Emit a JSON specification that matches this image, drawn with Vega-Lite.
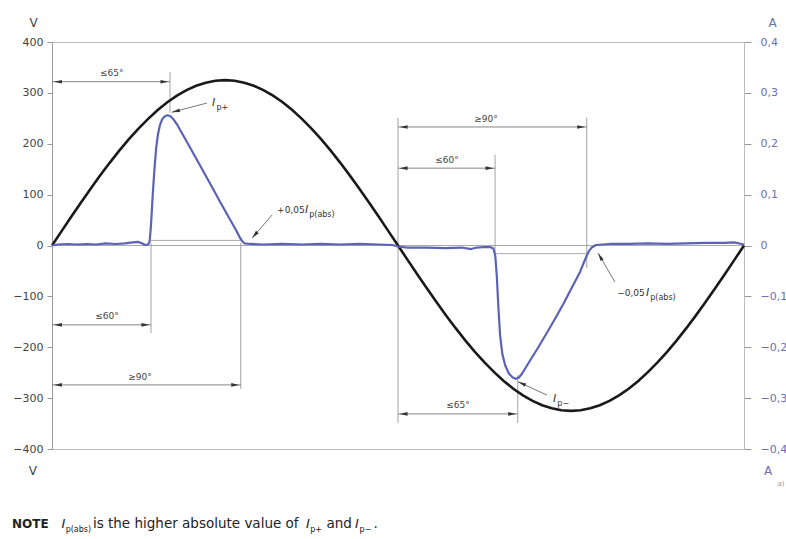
{
  "$schema": "https://vega.github.io/schema/vega-lite/v6.json",
  "width": 692,
  "height": 407,
  "autosize": {"type": "none"},
  "padding": {"left": 52, "top": 42, "right": 42, "bottom": 90},
  "background": "white",
  "config": {
    "view": {"stroke": "#bbbbbb", "strokeWidth": 1},
    "axis": {"grid": false, "labelFont": "DejaVu Sans", "titleFont": "DejaVu Sans"},
    "text": {"font": "DejaVu Sans"}
  },
  "datasets": {
    "sine": [
      {"d": 0, "v": 0}, {"d": 5, "v": 28.3}, {"d": 10, "v": 56.4}, {"d": 15, "v": 84.1}, {"d": 20, "v": 111.2},
      {"d": 25, "v": 137.4}, {"d": 30, "v": 162.5}, {"d": 35, "v": 186.4}, {"d": 40, "v": 208.9}, {"d": 45, "v": 229.8},
      {"d": 50, "v": 249.0}, {"d": 55, "v": 266.2}, {"d": 60, "v": 281.5}, {"d": 65, "v": 294.6}, {"d": 70, "v": 305.4},
      {"d": 75, "v": 313.9}, {"d": 80, "v": 320.1}, {"d": 85, "v": 323.8}, {"d": 90, "v": 325}, {"d": 95, "v": 323.8},
      {"d": 100, "v": 320.1}, {"d": 105, "v": 313.9}, {"d": 110, "v": 305.4}, {"d": 115, "v": 294.6}, {"d": 120, "v": 281.5},
      {"d": 125, "v": 266.2}, {"d": 130, "v": 249.0}, {"d": 135, "v": 229.8}, {"d": 140, "v": 208.9}, {"d": 145, "v": 186.4},
      {"d": 150, "v": 162.5}, {"d": 155, "v": 137.4}, {"d": 160, "v": 111.2}, {"d": 165, "v": 84.1}, {"d": 170, "v": 56.4},
      {"d": 175, "v": 28.3}, {"d": 180, "v": 0}, {"d": 185, "v": -28.3}, {"d": 190, "v": -56.4}, {"d": 195, "v": -84.1},
      {"d": 200, "v": -111.2}, {"d": 205, "v": -137.4}, {"d": 210, "v": -162.5}, {"d": 215, "v": -186.4}, {"d": 220, "v": -208.9},
      {"d": 225, "v": -229.8}, {"d": 230, "v": -249.0}, {"d": 235, "v": -266.2}, {"d": 240, "v": -281.5}, {"d": 245, "v": -294.6},
      {"d": 250, "v": -305.4}, {"d": 255, "v": -313.9}, {"d": 260, "v": -320.1}, {"d": 265, "v": -323.8}, {"d": 270, "v": -325},
      {"d": 275, "v": -323.8}, {"d": 280, "v": -320.1}, {"d": 285, "v": -313.9}, {"d": 290, "v": -305.4}, {"d": 295, "v": -294.6},
      {"d": 300, "v": -281.5}, {"d": 305, "v": -266.2}, {"d": 310, "v": -249.0}, {"d": 315, "v": -229.8}, {"d": 320, "v": -208.9},
      {"d": 325, "v": -186.4}, {"d": 330, "v": -162.5}, {"d": 335, "v": -137.4}, {"d": 340, "v": -111.2}, {"d": 345, "v": -84.1},
      {"d": 350, "v": -56.4}, {"d": 355, "v": -28.3}, {"d": 360, "v": 0}
    ],
    "current": [
      {"d": 0, "a": 0}, {"d": 3, "a": 0.002}, {"d": 8, "a": 0.003}, {"d": 13, "a": 0.002}, {"d": 18, "a": 0.003},
      {"d": 23, "a": 0.002}, {"d": 28, "a": 0.004}, {"d": 33, "a": 0.003}, {"d": 38, "a": 0.004}, {"d": 42, "a": 0.006},
      {"d": 45, "a": 0.007}, {"d": 47, "a": 0.004}, {"d": 48.5, "a": 0.001}, {"d": 50, "a": 0.002}, {"d": 50.8, "a": 0.008},
      {"d": 51.5, "a": 0.04}, {"d": 52.4, "a": 0.099}, {"d": 53.3, "a": 0.15}, {"d": 54.2, "a": 0.192}, {"d": 55.1, "a": 0.218},
      {"d": 56.1, "a": 0.236}, {"d": 57.3, "a": 0.248}, {"d": 58.7, "a": 0.254}, {"d": 60.2, "a": 0.256}, {"d": 61.6, "a": 0.254},
      {"d": 63.2, "a": 0.248}, {"d": 65.2, "a": 0.237}, {"d": 70, "a": 0.205}, {"d": 75.3, "a": 0.169}, {"d": 80, "a": 0.137},
      {"d": 83.8, "a": 0.111}, {"d": 88, "a": 0.082}, {"d": 92.6, "a": 0.051}, {"d": 95.5, "a": 0.032}, {"d": 97.4, "a": 0.018},
      {"d": 98.8, "a": 0.009}, {"d": 100.2, "a": 0.004}, {"d": 103, "a": 0.003}, {"d": 110, "a": 0.002}, {"d": 120, "a": 0.003},
      {"d": 130, "a": 0.002}, {"d": 140, "a": 0.003}, {"d": 150, "a": 0.002}, {"d": 160, "a": 0.003}, {"d": 170, "a": 0.002},
      {"d": 177, "a": 0.001}, {"d": 180, "a": -0.002}, {"d": 185, "a": -0.004}, {"d": 195, "a": -0.004}, {"d": 205, "a": -0.005},
      {"d": 213, "a": -0.004}, {"d": 218, "a": -0.007}, {"d": 221, "a": -0.004}, {"d": 225, "a": -0.003}, {"d": 228, "a": -0.003},
      {"d": 229.6, "a": -0.006}, {"d": 230.6, "a": -0.02}, {"d": 231.4, "a": -0.06}, {"d": 232.2, "a": -0.12}, {"d": 233.1, "a": -0.176},
      {"d": 234.3, "a": -0.214}, {"d": 235.8, "a": -0.236}, {"d": 237.6, "a": -0.251}, {"d": 239.5, "a": -0.259}, {"d": 241.2, "a": -0.262},
      {"d": 242.8, "a": -0.26}, {"d": 244.5, "a": -0.252}, {"d": 248.7, "a": -0.226}, {"d": 253, "a": -0.2}, {"d": 257.4, "a": -0.172},
      {"d": 262, "a": -0.142}, {"d": 266, "a": -0.115}, {"d": 270, "a": -0.086}, {"d": 274.7, "a": -0.052}, {"d": 277.6, "a": -0.025},
      {"d": 279.3, "a": -0.011}, {"d": 280.8, "a": -0.004}, {"d": 283, "a": 0.001}, {"d": 290, "a": 0.003}, {"d": 300, "a": 0.003},
      {"d": 310, "a": 0.004}, {"d": 320, "a": 0.003}, {"d": 330, "a": 0.004}, {"d": 340, "a": 0.005}, {"d": 350, "a": 0.005},
      {"d": 355, "a": 0.006}, {"d": 360, "a": 0.002}
    ],
    "levels": [
      {"d": 51.5, "d2": 98.2, "a": 0.01},
      {"d": 230.5, "d2": 278.2, "a": -0.016}
    ],
    "zero": [{"d": 0, "d2": 360, "v": 0}],
    "dims": [
      {"d": 0, "d2": 61.4, "v": 322},
      {"d": 0, "d2": 51.5, "v": -156},
      {"d": 0, "d2": 98.2, "v": -274},
      {"d": 180, "d2": 278.2, "v": 233},
      {"d": 180, "d2": 230.5, "v": 152},
      {"d": 180, "d2": 242.3, "v": -331}
    ],
    "ext": [
      {"d": 61.4, "v": 341, "v2": 260},
      {"d": 51.5, "v": 5, "v2": -172},
      {"d": 98.2, "v": 5, "v2": -282},
      {"d": 180, "v": 251, "v2": -349},
      {"d": 278.2, "v": 251, "v2": -44},
      {"d": 230.5, "v": 178, "v2": -15},
      {"d": 242.3, "v": -255, "v2": -349}
    ],
    "arrowL": [
      {"d": 1, "v": 322}, {"d": 1, "v": -156}, {"d": 1, "v": -274},
      {"d": 180.8, "v": 233}, {"d": 180.8, "v": 152}, {"d": 180.8, "v": -331}
    ],
    "arrowR": [
      {"d": 60.6, "v": 322}, {"d": 50.7, "v": -156}, {"d": 97.4, "v": -274},
      {"d": 277.4, "v": 233}, {"d": 229.7, "v": 152}, {"d": 241.5, "v": -331}
    ],
    "leaders": [
      {"name": "pp", "d": 80.6, "v": 280, "d2": 62.4, "v2": 262},
      {"name": "p05", "d": 114.5, "v": 60, "d2": 104.1, "v2": 14.7},
      {"name": "pm", "d": 257.5, "v": -294, "d2": 242.5, "v2": -268},
      {"name": "m05", "d": 292.9, "v": -72, "d2": 284.1, "v2": -15}
    ],
    "dimlabels": [
      {"d": 31.1, "v": 339, "text": "≤65°"},
      {"d": 28.6, "v": -139, "text": "≤60°"},
      {"d": 45.8, "v": -258, "text": "≥90°"},
      {"d": 225.8, "v": 248, "text": "≥90°"},
      {"d": 205.5, "v": 168, "text": "≤60°"},
      {"d": 211.2, "v": -313, "text": "≤65°"}
    ],
    "annText": [
      {"d": 117.1, "v": 69.8, "text": "+0,05"},
      {"d": 294.0, "v": -93, "text": "−0,05"}
    ],
    "annI": [
      {"d": 83.2, "v": 280}, {"d": 131.6, "v": 69.8}, {"d": 260.7, "v": -301}, {"d": 309.0, "v": -93}
    ],
    "annSub": [
      {"d": 85.6, "v": 270, "text": "p+"},
      {"d": 133.8, "v": 59, "text": "p(abs)"},
      {"d": 262.9, "v": -311, "text": "p−"},
      {"d": 311.2, "v": -104, "text": "p(abs)"}
    ],
    "noteBold": [{"d": -20.8, "v": -547, "text": "NOTE"}],
    "noteText": [
      {"d": 21.3, "v": -547, "text": "is the higher absolute value of"},
      {"d": 142.8, "v": -547, "text": "and"},
      {"d": 167.2, "v": -547, "text": "."}
    ],
    "noteI": [{"d": 5.0, "v": -547}, {"d": 132.2, "v": -547}, {"d": 157.6, "v": -547}],
    "noteSub": [
      {"d": 7.1, "v": -559, "text": "p(abs)"},
      {"d": 134.3, "v": -559, "text": "p+"},
      {"d": 160.0, "v": -559, "text": "p−"}
    ],
    "unitV": [{"d": -9.9, "v": -443, "text": "V"}],
    "unitA": [{"d": 372.5, "v": -443, "text": "A"}],
    "figTag": [{"d": 379.3, "v": -469, "text": "a)"}]
  },
  "layer": [
    {
      "encoding": {
        "x": {"field": "d", "type": "quantitative", "scale": {"domain": [0, 360], "nice": false, "zero": false}, "axis": null},
        "y": {
          "field": "v", "type": "quantitative",
          "scale": {"domain": [-400, 400], "nice": false, "zero": false},
          "axis": {
            "orient": "left", "title": "V", "titleAngle": 0, "titleX": -19, "titleY": -20,
            "titleAlign": "center", "titleBaseline": "middle", "titleFontSize": 12, "titleFontWeight": "normal", "titleColor": "#444",
            "values": [-400, -300, -200, -100, 0, 100, 200, 300, 400],
            "labelFontSize": 11, "labelColor": "#444", "labelPadding": 4,
            "tickSize": 5, "tickColor": "#999", "domainColor": "#999"
          }
        }
      },
      "layer": [
        {"data": {"name": "zero"}, "mark": {"type": "rule", "color": "#aaaaaa", "strokeWidth": 1}, "encoding": {"x2": {"field": "d2"}}},
        {"data": {"name": "ext"}, "mark": {"type": "rule", "color": "#999999", "strokeWidth": 0.9}, "encoding": {"y2": {"field": "v2"}}},
        {"data": {"name": "dims"}, "mark": {"type": "rule", "color": "#777777", "strokeWidth": 0.9}, "encoding": {"x2": {"field": "d2"}}},
        {"data": {"name": "sine"}, "mark": {"type": "line", "color": "#1a1a1a", "strokeWidth": 2.6}},
        {"data": {"name": "leaders"}, "mark": {"type": "rule", "color": "#666666", "strokeWidth": 0.9}, "encoding": {"x2": {"field": "d2"}, "y2": {"field": "v2"}}},
        {"data": {"name": "arrowL"}, "mark": {"type": "point", "shape": "M0,0L-2,-0.45L-2,0.45Z", "size": 64, "angle": 180, "filled": true, "color": "#333333", "opacity": 1, "strokeWidth": 0}},
        {"data": {"name": "arrowR"}, "mark": {"type": "point", "shape": "M0,0L-2,-0.45L-2,0.45Z", "size": 64, "angle": 0, "filled": true, "color": "#333333", "opacity": 1, "strokeWidth": 0}},
        {"data": {"name": "leaders"}, "transform": [{"filter": "datum.name === 'pp'"}], "mark": {"type": "point", "shape": "M0,0L-2,-0.45L-2,0.45Z", "size": 64, "angle": 166, "filled": true, "color": "#333333", "opacity": 1, "strokeWidth": 0}, "encoding": {"x": {"field": "d2", "type": "quantitative"}, "y": {"field": "v2", "type": "quantitative"}}},
        {"data": {"name": "leaders"}, "transform": [{"filter": "datum.name === 'p05'"}], "mark": {"type": "point", "shape": "M0,0L-2,-0.45L-2,0.45Z", "size": 64, "angle": 131, "filled": true, "color": "#333333", "opacity": 1, "strokeWidth": 0}, "encoding": {"x": {"field": "d2", "type": "quantitative"}, "y": {"field": "v2", "type": "quantitative"}}},
        {"data": {"name": "leaders"}, "transform": [{"filter": "datum.name === 'pm'"}], "mark": {"type": "point", "shape": "M0,0L-2,-0.45L-2,0.45Z", "size": 64, "angle": 204, "filled": true, "color": "#333333", "opacity": 1, "strokeWidth": 0}, "encoding": {"x": {"field": "d2", "type": "quantitative"}, "y": {"field": "v2", "type": "quantitative"}}},
        {"data": {"name": "leaders"}, "transform": [{"filter": "datum.name === 'm05'"}], "mark": {"type": "point", "shape": "M0,0L-2,-0.45L-2,0.45Z", "size": 64, "angle": 240, "filled": true, "color": "#333333", "opacity": 1, "strokeWidth": 0}, "encoding": {"x": {"field": "d2", "type": "quantitative"}, "y": {"field": "v2", "type": "quantitative"}}},
        {"data": {"name": "dimlabels"}, "mark": {"type": "text", "fontSize": 9, "color": "#444", "align": "center", "baseline": "middle"}, "encoding": {"text": {"field": "text"}}},
        {"data": {"name": "annText"}, "mark": {"type": "text", "fontSize": 9, "color": "#333", "align": "left", "baseline": "middle"}, "encoding": {"text": {"field": "text"}}},
        {"data": {"name": "annI"}, "mark": {"type": "text", "fontSize": 11, "fontStyle": "italic", "color": "#333", "align": "left", "baseline": "middle", "text": "I"}},
        {"data": {"name": "annSub"}, "mark": {"type": "text", "fontSize": 8, "color": "#333", "align": "left", "baseline": "middle"}, "encoding": {"text": {"field": "text"}}},
        {"data": {"name": "noteBold"}, "mark": {"type": "text", "fontSize": 12, "fontWeight": "bold", "color": "#222", "align": "left", "baseline": "middle"}, "encoding": {"text": {"field": "text"}}},
        {"data": {"name": "noteText"}, "mark": {"type": "text", "fontSize": 13.5, "color": "#222", "align": "left", "baseline": "middle"}, "encoding": {"text": {"field": "text"}}},
        {"data": {"name": "noteI"}, "mark": {"type": "text", "fontSize": 13, "fontStyle": "italic", "color": "#222", "align": "left", "baseline": "middle", "text": "I"}},
        {"data": {"name": "noteSub"}, "mark": {"type": "text", "fontSize": 8, "color": "#222", "align": "left", "baseline": "middle"}, "encoding": {"text": {"field": "text"}}},
        {"data": {"name": "unitV"}, "mark": {"type": "text", "fontSize": 12, "color": "#444", "align": "center", "baseline": "middle"}, "encoding": {"text": {"field": "text"}}},
        {"data": {"name": "unitA"}, "mark": {"type": "text", "fontSize": 12, "color": "#6d6db3", "align": "center", "baseline": "middle"}, "encoding": {"text": {"field": "text"}}},
        {"data": {"name": "figTag"}, "mark": {"type": "text", "fontSize": 7, "color": "#999", "align": "center", "baseline": "middle"}, "encoding": {"text": {"field": "text"}}}
      ]
    },
    {
      "encoding": {
        "x": {"field": "d", "type": "quantitative", "scale": {"domain": [0, 360], "nice": false, "zero": false}, "axis": null},
        "y": {
          "field": "a", "type": "quantitative",
          "scale": {"domain": [-0.4, 0.4], "nice": false, "zero": false},
          "axis": {
            "orient": "right", "title": "A", "titleAngle": 0, "titleX": 28, "titleY": -20,
            "titleAlign": "center", "titleBaseline": "middle", "titleFontSize": 12, "titleFontWeight": "normal", "titleColor": "#6d6db3",
            "values": [-0.4, -0.3, -0.2, -0.1, 0, 0.1, 0.2, 0.3, 0.4],
            "labelExpr": "replace(format(datum.value, '.1~f'), '.', ',')",
            "labelFontSize": 11, "labelColor": "#6d6db3", "labelPadding": 9,
            "tickSize": 7, "tickColor": "#999", "domainColor": "#bbb"
          }
        }
      },
      "layer": [
        {"data": {"name": "levels"}, "mark": {"type": "rule", "color": "#aaaaaa", "strokeWidth": 1}, "encoding": {"x2": {"field": "d2"}}},
        {"data": {"name": "current"}, "mark": {"type": "line", "color": "#5a63b5", "strokeWidth": 2.2, "interpolate": "linear", "strokeJoin": "round"}}
      ]
    }
  ],
  "resolve": {"scale": {"y": "independent"}, "axis": {"y": "independent"}}
}
